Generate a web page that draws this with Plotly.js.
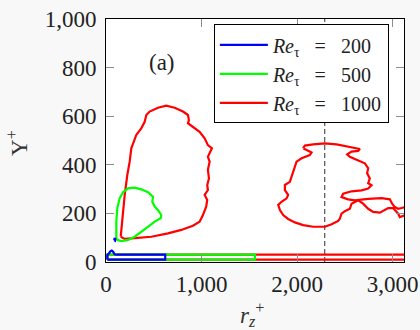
<!DOCTYPE html>
<html>
<head>
<meta charset="utf-8">
<script src="https://cdn.plot.ly/plotly-3.0.1.min.js"></script>
<style>html,body{margin:0;padding:0;background:#f8f8f8;}</style>
</head>
<body>
<div id="chart" style="width:420px;height:330px;"></div>
<script>
// Series names
var seriesNames = ["Re_tau = 200", "Re_tau = 500", "Re_tau = 1000"];
var SP = "\u00a0\u00a0\u00a0";
var legendLabels = [
  "<i>Re</i><sub>τ</sub>" + SP + "=" + SP + "200",
  "<i>Re</i><sub>τ</sub>" + SP + "=" + SP + "500",
  "<i>Re</i><sub>τ</sub>" + SP + "=" + SP + "1000"
];

// Re_tau = 200 : near-wall contour and small isolated contour
var blueWallX = [14, 14, 30, 45, 60, 75, 90, 110, 620, 620, 14];
var blueWallY = [10, 28, 35, 44, 47, 42, 32, 30, 30, 10, 10];
var blueDotX = [86, 94, 97, 91, 86];
var blueDotY = [90, 88, 95, 99, 90];

// Re_tau = 500 : near-wall contour and outer contour
var greenWallX = [14, 14, 1560, 1560, 14];
var greenWallY = [10, 30, 30, 10, 10];
var greenLoopX = [108, 108, 118, 143, 178, 230, 300, 369, 439, 492, 485, 510, 551, 579, 572, 510, 439, 369, 300, 230, 160, 118, 108];
var greenLoopY = [97, 166, 221, 262, 287, 303, 306, 299, 287, 269, 248, 228, 210, 193, 180, 166, 145, 125, 104, 91, 86, 91, 97];

// Re_tau = 1000 : near-wall contour, left outer contour, right outer contour
var redWallX = [14, 14, 3300, 3300, 14];
var redWallY = [10, 30, 30, 10, 10];
var redLeftX = [154, 167, 196, 223, 248, 265, 317, 369, 405, 422, 457, 544, 631, 719, 806, 858, 868, 858, 910, 980, 1033, 1067, 1109, 1085, 1067, 1085, 1067, 1078, 1060, 1067, 1033, 1060, 1049, 1015, 980, 910, 788, 649, 474, 300, 196, 154];
var redLeftY = [104, 166, 276, 358, 413, 468, 523, 550, 577, 605, 619, 635, 643, 635, 619, 605, 584, 571, 557, 536, 509, 481, 468, 447, 433, 413, 379, 344, 317, 296, 276, 255, 228, 193, 166, 149, 132, 118, 104, 98, 95, 104];
var redRightX = [2064, 2082, 2169, 2292, 2414, 2553, 2658, 2640, 2571, 2525, 2553, 2629, 2710, 2745, 2734, 2762, 2745, 2780, 2745, 2676, 2571, 2483, 2466, 2535, 2605, 2745, 2885, 2972, 2996, 3024, 3059, 3094, 3128, 3160, 3128, 3076, 3059, 3034, 3006, 2954, 2919, 2867, 2797, 2745, 2692, 2640, 2571, 2553, 2501, 2466, 2448, 2431, 2362, 2292, 2169, 2064, 1978, 1907, 1855, 1821, 1803, 1838, 1891, 1907, 1873, 1873, 1925, 1943, 1960, 1978, 1995, 2048, 2134, 2152, 2100, 2064];
var redRightY = [468, 479, 484, 488, 484, 474, 465, 457, 454, 443, 433, 420, 406, 386, 365, 344, 324, 316, 302, 295, 291, 281, 267, 258, 254, 260, 263, 258, 240, 226, 219, 222, 226, 214, 192, 185, 199, 210, 222, 222, 213, 203, 206, 219, 240, 254, 240, 219, 209, 199, 178, 169, 155, 145, 145, 152, 163, 177, 193, 214, 235, 248, 262, 276, 296, 317, 330, 351, 372, 392, 413, 427, 440, 451, 461, 468];

// Reference vertical dashed line
var dashedX = [2290, 2290];
var dashedY = [0, 1000];

// Axis ticks and titles
var xTickVals = [0, 1000, 2000, 3000];
var xTickText = ["0", "1,000", "2,000", "3,000"];
var yTickVals = [0, 200, 400, 600, 800, 1000];
var yTickText = ["0", "200", "400", "600", "800", "1,000"];
var xTitle = "<i>r</i><sub><i>z</i></sub><sup>+</sup>";
var yTitle = "Y<sup>+</sup>";
var panelLabel = "(a)";

var BLUE = "#0000ff", GREEN = "#00ff00", RED = "#ff0000";
var LW = 2.2;
var FONT = "Liberation Serif";
var FS = 23;
var LFS = 20;

function line(x, y, color, opts) {
  var t = {x: x, y: y, type: "scatter", mode: "lines", line: {color: color, width: LW}, hoverinfo: "skip", showlegend: false};
  for (var k in opts) t[k] = opts[k];
  return t;
}

var traces = [
  line(dashedX, dashedY, "#444", {line: {color: "#444", width: 1.1, dash: "5px,3px"}}),
  line(redWallX, redWallY, RED, {showlegend: true, name: legendLabels[2], legendrank: 3}),
  line(redLeftX, redLeftY, RED),
  line(redRightX, redRightY, RED),
  line(greenWallX, greenWallY, GREEN, {showlegend: true, name: legendLabels[1], legendrank: 2}),
  line(greenLoopX, greenLoopY, GREEN),
  line(blueWallX, blueWallY, BLUE, {showlegend: true, name: legendLabels[0], legendrank: 1}),
  line(blueDotX, blueDotY, BLUE)
];

var axisCommon = {
  showline: true, linecolor: "#000", linewidth: 1, mirror: "ticks",
  ticks: "inside", ticklen: 8, tickcolor: "#8c8c8c", tickwidth: 1,
  showgrid: false, zeroline: false, ticklabeloverflow: "allow",
  tickfont: {family: FONT, size: FS, color: "#222"}
};

var layout = {
  width: 420, height: 330,
  margin: {l: 106, r: 16, t: 19, b: 68},
  paper_bgcolor: "#f8f8f8", plot_bgcolor: "#ffffff",
  font: {family: FONT, size: FS, color: "#222"},
  xaxis: Object.assign({}, axisCommon, {
    range: [0, 3120], tickvals: xTickVals, ticktext: xTickText,
    ticklabelstandoff: 1
  }),
  yaxis: Object.assign({}, axisCommon, {
    range: [0, 1000], tickvals: yTickVals, ticktext: yTickText,
    ticklabelstandoff: 4
  }),
  legend: {
    x: 0.362, y: 0.978, xanchor: "left", yanchor: "top",
    bgcolor: "#ffffff", bordercolor: "#000", borderwidth: 1,
    font: {family: FONT, size: LFS, color: "#222"},
    itemwidth: 48, traceorder: "normal"
  },
  annotations: [
    {text: panelLabel, xref: "paper", yref: "paper", x: 0.139, y: 0.881,
     showarrow: false, font: {family: FONT, size: FS, color: "#222"}},
    {text: xTitle, xref: "paper", yref: "paper", x: 0.49, y: 0, yshift: -52,
     xanchor: "center", yanchor: "middle",
     showarrow: false, font: {family: FONT, size: FS, color: "#333"}},
    {text: yTitle, xref: "paper", yref: "paper", x: 0, xshift: -88, y: 0.49,
     xanchor: "center", yanchor: "middle", textangle: -90,
     showarrow: false, font: {family: FONT, size: FS, color: "#333"}}
  ],
  showlegend: true
};

Plotly.newPlot("chart", traces, layout, {displayModeBar: false, staticPlot: true});
</script>
</body>
</html>
